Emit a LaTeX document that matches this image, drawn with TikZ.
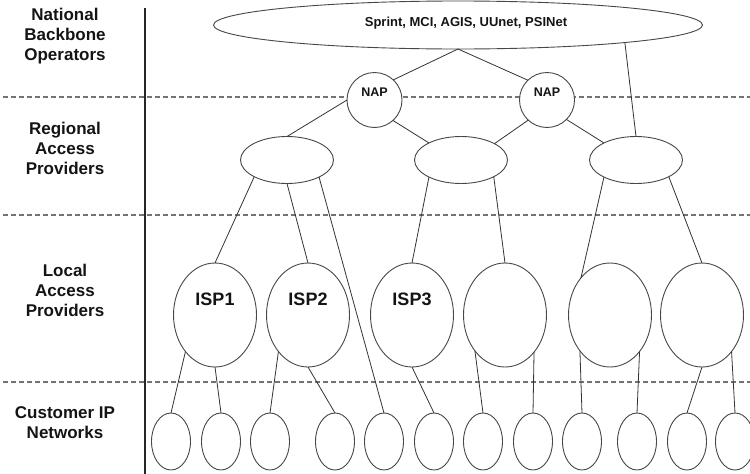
\documentclass[tikz,border=0pt]{standalone}
\usepackage{fontspec}
\setmainfont{Liberation Sans}
\usetikzlibrary{shapes.geometric}
\begin{document}
\begin{tikzpicture}[x=1pt,y=-1pt,
  every node/.style={inner sep=0pt, outer sep=0pt},
  net/.style={ellipse, draw=black!72, line width=0.9pt, fill=white},
  link/.style={draw=black!80, line width=0.8pt},
  tierline/.style={draw=black!55, line width=1.1pt, dash pattern=on 5pt off 3pt},
  divider/.style={draw=black!85, line width=1.1pt},
  tier/.style={font=\fontsize{17}{20}\selectfont\bfseries, align=center, text=black!92},
  isptext/.style={font=\fontsize{18}{20}\selectfont\bfseries, text=black!92},
  naptext/.style={font=\fontsize{12.5}{14}\selectfont\bfseries, text=black!92},
  bbtext/.style={font=\fontsize{13}{15}\selectfont\bfseries, text=black!92},
  backbone/.style={net, minimum width=489pt, minimum height=48pt},
  nap/.style={net, minimum width=55pt, minimum height=55pt},
  regional/.style={net, minimum width=93pt, minimum height=47pt},
  isp/.style={net, minimum width=83pt, minimum height=104pt},
  customer/.style={net, minimum width=39pt, minimum height=57pt}]

\useasboundingbox (0,0) rectangle (750,474);

% tier labels
\node[tier] (lblnat) at (65,36) {National\\Backbone\\Operators};
\node[tier] (lblreg) at (65,148) {Regional\\Access\\Providers};
\node[tier] (lblloc) at (65,290) {Local\\Access\\Providers};
\node[tier] (lblcus) at (65,423) {Customer IP\\Networks};

% tier separators
\coordinate (d1a) at (3,97);   \coordinate (d1b) at (750,97);
\coordinate (d2a) at (3,215);  \coordinate (d2b) at (750,215);
\coordinate (d3a) at (3,382);  \coordinate (d3b) at (750,382);
\coordinate (vtop) at (145,8); \coordinate (vbot) at (145,474);
\draw[tierline] (d1a) -- (d1b);
\draw[tierline] (d2a) -- (d2b);
\draw[tierline] (d3a) -- (d3b);
\draw[divider] (vtop) -- (vbot);

% backbone and access points
\node[backbone] (top) at (458,25) {};
\node[bbtext] (toptext) at ([xshift=8pt,yshift=2pt]top.center) {Sprint, MCI, AGIS, UUnet, PSINet};
\node[nap] (nap1) at (374.5,100) {};
\node[nap] (nap2) at (547,100) {};
\node[naptext] (nap1t) at ([yshift=8pt]nap1.center) {NAP};
\node[naptext] (nap2t) at ([yshift=8pt]nap2.center) {NAP};

% regional providers
\node[regional] (r1) at (287,160) {};
\node[regional] (r2) at (461,160) {};
\node[regional] (r3) at (636,160) {};

% local providers
\node[isp] (isp1) at (215,315) {};
\node[isp] (isp2) at (308,315) {};
\node[isp] (isp3) at (412,315) {};
\node[isp] (isp4) at (505,315) {};
\node[isp] (isp5) at (610,315) {};
\node[isp] (isp6) at (702,315) {};
\node[isptext] (isp1t) at ([yshift=16pt]isp1.center) {ISP1};
\node[isptext] (isp2t) at ([yshift=16pt]isp2.center) {ISP2};
\node[isptext] (isp3t) at ([yshift=16pt]isp3.center) {ISP3};

% customer networks
\foreach \i/\x in {1/171,2/221,3/270,4/335,5/384,6/434,7/483,8/533,9/582,10/637,11/687,12/735}
  \node[customer] (c\i) at (\x,441.5) {};

% backbone links
\draw[link] (top.south) -- (nap1.47);
\draw[link] (top.south) -- (nap2.134);
\draw[link] (top.354.4) -- (r3.north);

% NAP to regional links
\draw[link] (nap1.west) -- (r1.north);
\draw[link] (nap1.-48) -- (r2.152.7);
\draw[link] (nap2.227) -- (r2.26.6);
\draw[link] (nap2.-45.7) -- (r3.152.7);

% regional to local links
\draw[link] (r1.207) -- (isp1.north);
\draw[link] (r1.south) -- (isp2.north);
\draw[link] (r1.-28.6) -- (c5.north);
\draw[link] (r2.208.6) -- (isp3.north);
\draw[link] (r2.-27.9) -- (isp4.north);
\draw[link] (r3.208.6) -- (isp5.128.3);
\draw[link] (r3.-27.9) -- (isp6.north);

% local to customer links
\draw[link] (isp1.231.7) -- (c1.north);
\draw[link] (isp1.south) -- (c2.north);
\draw[link] (isp2.231) -- (c3.north);
\draw[link] (isp2.south) -- (c4.north);
\draw[link] (isp3.south) -- (c6.north);
\draw[link] (isp4.230) -- (c7.north);
\draw[link] (isp4.-52) -- (c8.north);
\draw[link] (isp5.230) -- (c9.north);
\draw[link] (isp5.-51) -- (c10.north);
\draw[link] (isp6.south) -- (c11.north);
\draw[link] (isp6.-51) -- (c12.north);
\end{tikzpicture}
\end{document}
